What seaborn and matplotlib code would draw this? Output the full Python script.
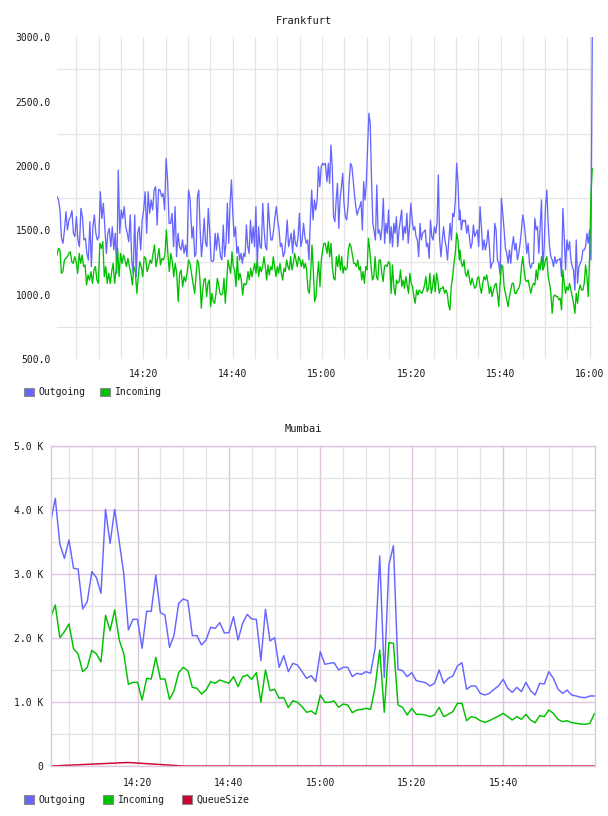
import numpy as np
import pandas as pd
import matplotlib
matplotlib.use("Agg")
import matplotlib.pyplot as plt
import seaborn as sns
from matplotlib.ticker import FuncFormatter, FixedLocator
from matplotlib.patches import Patch

# ---------------- Frankfurt (values read in four time segments) ----------------
# segment bounds in minutes after 14:00
fra_segments = [(0.67, 30.46), (30.9, 60.76), (61.14, 90.77), (90.93, 120.55)]

fra_out_1 = [1762,1736,1658,1438,1399,1503,1645,1503,1580,1606,1653,1477,1451,1606,1425,1373,1671,1606,1425,1438,
             1321,1269,1567,1218,1528,1619,1477,1425,1451,1800,1593,1710,1528,1321,1477,1515,1373,1528,1347,1477,
             1166,1969,1477,1658,1593,1684,1528,1477,1412,1619,1269,1166,1619,1140,1477,1528,1347,1580,1658,1800,
             1477,1800,1632,1736,1658,1813,1839,1541,1818,1813,1762,1787,1658,2059,1891,1554,1554,1632,1373,1684,
             1295,1477,1373,1347,1425,1321,1386,1295,1813,1748]
fra_out_2 = [1438,1528,1295,1321,1762,1813,1503,1295,1425,1593,1399,1373,1671,1503,1269,1256,1269,1477,1347,1477,
             1399,1295,1269,1541,1295,1399,1710,1399,1710,1891,1632,1451,1528,1321,1373,1269,1321,1244,1321,1295,
             1541,1373,1321,1580,1399,1528,1373,1684,1218,1528,1373,1360,1710,1503,1373,1347,1710,1554,1425,1425,
             1503,1606,1684,1580,1503,1373,1399,1295,1321,1425,1580,1373,1425,1477,1321,1503,1399,1373,1451,1632,
             1373,1425,1554,1451,1399,1425,1269,1580,1813,1580,1736,1658,1736,1995,1839,1995,2021,2008,2021]
fra_out_3 = [1878,2021,1865,2163,1995,1606,1567,1735,1865,1515,1748,1839,1943,1710,1606,1580,1684,1891,2021,1995,
             1891,1774,1684,1619,1658,1684,1723,1502,1878,1735,1865,2150,2409,2331,1891,1554,1490,1425,1852,1477,
             1503,1425,1528,1748,1399,1554,1477,1658,1399,1528,1373,1554,1477,1606,1373,1503,1580,1658,1425,1528,
             1477,1632,1399,1528,1710,1580,1503,1528,1451,1425,1295,1554,1425,1477,1490,1503,1373,1399,1282,1580,
             1451,1425,1528,1477,1554,1930,1425,1295,1425,1528,1425,1373,1269,1425,1554,1425,1632,1606,1735,2021,
             1865,1580]
fra_out_4 = [1658,1503,1580,1567,1580,1477,1541,1451,1360,1399,1541,1451,1477,1503,1373,1684,1528,1347,1425,1347,
             1399,1503,1373,1205,1244,1257,1554,1503,1270,1244,1153,1749,1632,1503,1360,1321,1244,1347,1244,1373,
             1451,1347,1399,1270,1321,1399,1503,1619,1554,1451,1321,1399,1244,1205,1244,1244,1593,1503,1528,1321,
             1528,1736,1192,1373,1684,1813,1554,1373,1295,1270,1218,1295,1244,1270,1270,1283,1140,1671,1451,1192,
             1425,1347,1412,1270,1218,1192,1036,1425,1088,1218,1244,1270,1347,1347,1373,1477,1399,1503,1270,3000]

fra_in_1 = [1308,1360,1347,1166,1179,1269,1282,1295,1321,1334,1256,1243,1295,1256,1166,1321,1243,1308,1218,1231,
            1075,1153,1114,1179,1088,1192,1218,1114,1088,1399,1360,1412,1140,1218,1088,1166,1088,1179,1243,1088,
            1192,1360,1140,1321,1243,1308,1269,1218,1282,1218,1166,1075,1218,1179,1010,1140,1256,1218,1140,1295,
            1282,1179,1218,1269,1243,1321,1386,1218,1282,1360,1231,1282,1269,1308,1503,1321,1179,1321,1256,1140,
            1243,1166,946,1166,1192,1062,1140,1101,1166,1269,1243]
fra_in_2 = [1140,1075,1010,1140,1269,1243,1114,894,1036,1114,1127,985,1088,1114,907,1010,946,933,1010,1127,
            1075,1010,997,1010,1127,933,1088,1269,1218,1166,1334,1218,1192,1062,1295,1114,1166,1114,997,1088,
            1075,1088,1179,1114,1205,1140,1192,1243,1166,1269,1140,1218,1179,1218,1295,1218,1114,1231,1153,1218,
            1192,1295,1218,1140,1218,1166,1243,1166,1114,1205,1179,1269,1218,1192,1295,1192,1243,1321,1269,1218,
            1295,1269,1218,1269,1205,1243,1192,1036,1010,1166,1386,1192,946,985,1140,1256,1062,1269,1347,1399,1399]
fra_in_3 = [1321,1412,1295,1399,1218,1127,1114,1295,1218,1308,1192,1295,1166,1218,1192,1205,1347,1399,1373,1308,
            1243,1243,1218,1269,1192,1218,1114,1179,1088,1218,1192,1438,1347,1218,1114,1140,1295,1140,1114,1269,
            1269,1166,1101,1218,1231,1218,1256,1243,1010,1231,1062,997,1114,1088,1101,1192,1062,1114,1049,1140,
            1075,1010,1166,1088,1062,985,933,1036,997,1036,1023,1010,1036,1075,1140,1023,1049,1166,1010,1062,
            1153,1023,1166,1101,1010,1049,1049,1062,1010,1036,1010,920,881,1062,1140,1243,1321,1477,1425,1269]
fra_in_4 = [1347,1244,1218,1270,1166,1140,1192,1127,1075,1127,1088,1049,1062,1127,1140,1062,1010,1088,1140,1114,
            1153,1088,1010,1062,985,1036,1075,1088,1010,907,1088,1231,1218,1062,1010,959,907,985,1036,1088,
            1088,1010,1010,1036,1049,1088,1218,1295,1192,1114,1101,1114,1062,1010,1062,1088,1075,1192,1114,1244,
            1192,1295,1192,1218,1270,1295,1140,1088,1010,855,985,998,985,985,959,972,881,1192,1088,1010,
            1062,1036,1088,1036,985,933,855,1010,933,1036,1075,1036,1036,1088,1231,1140,985,1295,1762,1982]

# ---------------- Mumbai (one value per minute, 14:01 .. 16:00) ----------------
mum_start, mum_end = 1, 120
mum_out = [3818,4182,3469,3245,3531,3089,3078,2453,2568,3037,2943,2698,4010,3479,4010,3505,3000,2125,2292,2292,
           1839,2417,2417,2984,2396,2359,1854,2047,2542,2609,2583,2037,2037,1891,1969,2167,2151,2240,2078,2083,
           2333,1969,2229,2370,2297,2292,1646,2448,1953,2005,1542,1724,1474,1604,1578,1474,1370,1412,1318,1786,
           1589,1604,1615,1500,1542,1542,1396,1448,1432,1474,1448,1839,3281,1385,3141,3443,1510,1490,1396,1458,
           1333,1318,1302,1250,1292,1500,1292,1370,1406,1562,1615,1198,1250,1250,1135,1109,1135,1198,1250,1354,
           1214,1151,1229,1162,1307,1177,1109,1292,1281,1474,1370,1203,1135,1187,1109,1094,1073,1068,1094,1094]
mum_in = [2323,2516,2005,2099,2219,1833,1750,1474,1542,1807,1750,1625,2354,2115,2438,1969,1750,1276,1307,1307,
          1031,1370,1359,1698,1359,1359,1042,1177,1458,1542,1490,1229,1214,1125,1187,1318,1292,1344,1318,1292,
          1396,1240,1396,1422,1354,1458,995,1500,1177,1198,1057,1068,912,1021,995,927,839,859,807,1109,
          995,995,1016,917,969,953,833,875,885,901,885,1240,1813,839,1927,1917,953,917,797,901,
          807,807,797,771,797,917,771,807,849,979,979,708,771,755,708,682,708,745,781,823,
          771,719,771,729,807,719,677,786,771,875,823,729,693,708,677,667,656,651,667,823]
mum_queue = [0,3,6,10,13,16,19,23,26,29,32,36,39,42,45,49,52,55,50,46,
             41,37,32,28,23,18,14,9,5,0,0,0,0,0,0,0,0,0,0,0,
             0,0,0,0,0,0,0,0,0,0,0,0,0,0,0,0,0,0,0,0,
             0,0,0,0,0,0,0,0,0,0,0,0,0,0,0,0,0,0,0,0,
             0,0,0,0,0,0,0,0,0,0,0,0,0,0,0,0,0,0,0,0,
             0,0,0,0,0,0,0,0,0,0,0,0,0,0,0,0,0,0,0,0]

fra_series = ["Outgoing", "Incoming"]
mum_series = ["Outgoing", "Incoming", "QueueSize"]
colors = {"Outgoing": "#6666ff", "Incoming": "#00c000", "QueueSize": "#cc0033"}

fra_xticks = [20, 40, 60, 80, 100, 120]
mum_xticks = [20, 40, 60, 80, 100]
fra_yticks = [500, 1000, 1500, 2000, 2500, 3000]
mum_yticks = [0, 1000, 2000, 3000, 4000, 5000]


def seg_frame(segs, name):
    rows = []
    for (a, b), vals in zip(fra_segments, segs):
        t = np.linspace(a, b, len(vals))
        rows.append(pd.DataFrame({"minute": t, "value": vals, "series": name}))
    return pd.concat(rows, ignore_index=True)


fra_df = pd.concat([
    seg_frame([fra_out_1, fra_out_2, fra_out_3, fra_out_4], "Outgoing"),
    seg_frame([fra_in_1, fra_in_2, fra_in_3, fra_in_4], "Incoming"),
], ignore_index=True)

mum_t = np.arange(mum_start, mum_end + 1)
mum_df = pd.concat([
    pd.DataFrame({"minute": mum_t, "value": mum_out, "series": "Outgoing"}),
    pd.DataFrame({"minute": mum_t, "value": mum_in, "series": "Incoming"}),
    pd.DataFrame({"minute": mum_t, "value": mum_queue, "series": "QueueSize"}),
], ignore_index=True)

sns.set_style("white")
plt.rcParams["font.family"] = ["DejaVu Sans Mono"]
plt.rcParams["text.color"] = "#1a1a1a"

W, H = 608, 816
fig = plt.figure(figsize=(W / 100, H / 100), dpi=100)


def fx(px):
    return px / W


def fy(py):
    return 1 - py / H


ax1 = fig.add_axes([fx(57), fy(359), fx(592.8) - fx(57), (359 - 37.3) / H])
ax2 = fig.add_axes([fx(50.7), fy(766), fx(594.5) - fx(50.7), 320 / H])

time_fmt = FuncFormatter(lambda m, p: f"{14 + int(round(m)) // 60}:{int(round(m)) % 60:02d}")

# ---- Frankfurt ----
sns.lineplot(data=fra_df, x="minute", y="value", hue="series", hue_order=fra_series,
             palette=colors, estimator=None, linewidth=0.95, legend=False, ax=ax1)
ax1.set_xlim(0.67, 120.67)
ax1.set_ylim(500, 3000)
ax1.xaxis.set_major_locator(FixedLocator(fra_xticks))
ax1.xaxis.set_minor_locator(FixedLocator(list(range(5, 121, 5))))
ax1.xaxis.set_major_formatter(time_fmt)
ax1.yaxis.set_major_locator(FixedLocator(fra_yticks))
ax1.yaxis.set_minor_locator(FixedLocator([750, 1250, 1750, 2250, 2750]))
ax1.yaxis.set_major_formatter(FuncFormatter(lambda v, p: f"{v:.1f}"))
ax1.grid(False)
ax1.grid(True, which="both", axis="x", color="#e4e4e4", linewidth=0.9)
ax1.grid(True, which="minor", axis="y", color="#e4e4e4", linewidth=0.9)
ax1.set_axisbelow(True)
for s in ax1.spines.values():
    s.set_visible(False)
ax1.tick_params(axis="both", which="both", length=0, labelsize=7, colors="#1a1a1a")
ax1.tick_params(axis="x", pad=7)
ax1.tick_params(axis="y", pad=4.6)
ax1.set_xlabel("")
ax1.set_ylabel("")

# ---- Mumbai ----
sns.lineplot(data=mum_df, x="minute", y="value", hue="series", hue_order=mum_series,
             palette=colors, estimator=None, linewidth=1.05, legend=False, ax=ax2)
ax2.set_xlim(1, 120)
ax2.set_ylim(0, 5000)
ax2.xaxis.set_major_locator(FixedLocator(mum_xticks))
ax2.xaxis.set_minor_locator(FixedLocator([m for m in range(5, 120, 5) if m % 20]))
ax2.xaxis.set_major_formatter(time_fmt)
ax2.yaxis.set_major_locator(FixedLocator(mum_yticks))
ax2.yaxis.set_minor_locator(FixedLocator([500, 1500, 2500, 3500, 4500]))
ax2.yaxis.set_major_formatter(FuncFormatter(lambda v, p: "0" if v == 0 else f"{v / 1000:.1f} K"))
ax2.grid(False)
ax2.grid(True, which="minor", color="#e2e2e2", linewidth=0.9)
ax2.grid(True, which="major", color="#dec6de", linewidth=1.0)
ax2.set_axisbelow(True)
for s in ax2.spines.values():
    s.set_visible(True)
    s.set_color("#dec6de")
    s.set_linewidth(1.0)
ax2.tick_params(axis="both", which="both", length=0, labelsize=7, colors="#1a1a1a")
ax2.tick_params(axis="x", pad=8.3)
ax2.tick_params(axis="y", pad=5.3)
ax2.set_xlabel("")
ax2.set_ylabel("")

# ---- titles ----
fig.text(fx(304), fy(20.7), "Frankfurt", ha="center", va="center", fontsize=7.5)
fig.text(fx(303), fy(429), "Mumbai", ha="center", va="center", fontsize=7.5)

# ---- legends ----
def make_legend(names, y, spacing):
    handles = [Patch(facecolor=colors[n], edgecolor="#8a8a8a", linewidth=0.8) for n in names]
    fig.legend(handles, names, loc="center left", bbox_to_anchor=(fx(24), fy(y)),
               ncol=len(names), frameon=False, fontsize=7, handlelength=1.0, handleheight=1.0,
               handletextpad=0.5, columnspacing=spacing, borderpad=0, borderaxespad=0)


make_legend(fra_series, 392.3, 1.5)
make_legend(mum_series, 800, 1.8)

fig.savefig("out.png", dpi=100)
